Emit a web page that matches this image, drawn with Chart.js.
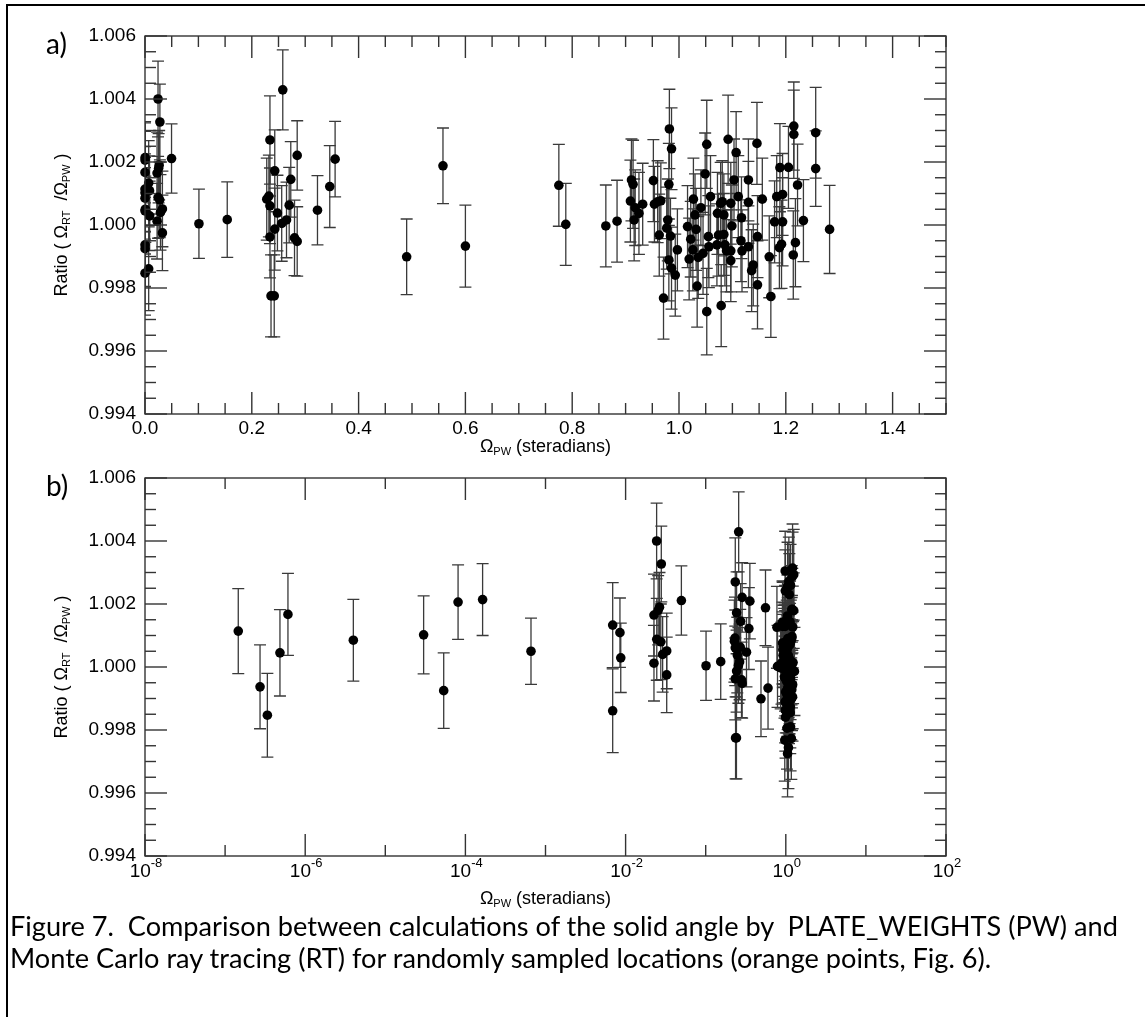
<!DOCTYPE html>
<html>
<head>
<meta charset="utf-8">
<script src="https://cdn.jsdelivr.net/npm/chart.js@4.4.1/dist/chart.umd.min.js"></script>
<style>
  html, body { margin: 0; padding: 0; background: #fff; }
  body { width: 1145px; height: 1017px; position: relative; overflow: hidden; }
  #frame { position: absolute; left: 6px; top: 4px; width: 1200px; height: 1100px;
           border-left: 2px solid #000; border-top: 2px solid #000; }
  canvas { position: absolute; left: 0; }
  #chartA { top: 0; }
  #chartB { top: 440px; }
  .panel { position: absolute; left: 46px; font-family: Lato, "Open Sans", sans-serif; font-size: 28px; line-height: 1; }
  #caption { position: absolute; left: 10px; top: 910px; font-family: Lato, "Open Sans", sans-serif;
             font-size: 23px; line-height: 32px; white-space: pre; color: #000; }
</style>
</head>
<body>
<div id="frame"></div>
<canvas id="chartA" width="1145" height="460"></canvas>
<canvas id="chartB" width="1145" height="470"></canvas>
<div class="panel" style="top:29px">a)</div>
<div class="panel" style="top:471px">b)</div>
<div id="caption"><span>Figure 7.  Comparison between calculations of the solid angle by  PLATE_WEIGHTS (PW) and</span>
<span>Monte Carlo ray tracing (RT) for randomly sampled locations (orange points, Fig. 6).</span></div>
<script>
// solid angle from PLATE_WEIGHTS (steradians)
const omegaPW = [
  1.46e-7, 2.73e-7, 3.37e-7, 4.84e-7, 6.09e-7, 3.99e-6, 3.01e-5, 5.36e-5, 8.1e-5, 1.64e-4, 6.59e-4, 6.9e-3, 6.9e-3, 8.5e-3, 8.7e-3,
  0.0226, 0.0226, 0.0244, 0.0245, 0.0255, 0.0265, 0.0279, 0.0275, 0.029, 0.0326, 0.0326, 0.0497, 0.101, 0.154,
  0.228, 0.232, 0.234, 0.234, 0.234, 0.236, 0.242, 0.243, 0.243, 0.248, 0.256, 0.258, 0.265, 0.270, 0.273, 0.280, 0.285, 0.285, 0.323, 0.346, 0.356,
  0.490, 0.558, 0.600, 0.775, 0.788, 0.863, 0.884,
  0.909, 0.911, 0.914, 0.916, 0.918, 0.925, 0.932, 0.952, 0.954, 0.960, 0.966, 0.963, 0.971, 0.977, 0.979, 0.981, 0.982, 0.986, 0.981, 0.984, 0.986, 0.993, 0.997,
  1.016, 1.019, 1.022, 1.026, 1.027, 1.030, 1.032, 1.034, 1.036, 1.041, 1.045, 1.049, 1.052, 1.052, 1.055, 1.056, 1.059,
  1.071, 1.072, 1.074, 1.078, 1.079, 1.081, 1.084, 1.084, 1.086, 1.089, 1.092, 1.097, 1.097, 1.097, 1.099, 1.103, 1.107, 1.111, 1.116, 1.117, 1.118,
  1.130, 1.130, 1.130, 1.136, 1.139, 1.146, 1.147, 1.147, 1.156, 1.169, 1.172, 1.179, 1.183, 1.189, 1.194, 1.194, 1.188, 1.192, 1.205, 1.215, 1.215, 1.222, 1.233, 1.218, 1.214, 1.256, 1.256, 1.282
];

// ratio RT / PW
const ratio = [
  1.00114, 0.99937, 0.99847, 1.00045, 1.00167, 1.00085, 1.00102, 0.99925, 1.00206, 1.00214, 1.0005, 1.00133, 0.99861, 1.00109, 1.00029,
  1.00165, 1.00012, 1.0040, 1.00088, 1.0018, 1.0019, 1.00327, 1.0008, 1.0004, 1.00051, 0.99975, 1.00211, 1.00004, 1.00017,
  1.00082, 1.00092, 1.0027, 1.00061, 0.99962, 0.99775, 0.99775, 1.00172, 0.99987, 1.00038, 1.00005, 1.00429, 1.00016, 1.00063, 1.00145, 0.99959, 0.99948, 1.00221, 1.00047, 1.00122, 1.00209,
  0.99899, 1.00188, 0.99933, 1.00126, 1.00002, 0.99997, 1.00012,
  1.00076, 1.00143, 1.00129, 1.00016, 1.00055, 1.00037, 1.00066, 1.00141, 1.00066, 1.00074, 1.00077, 0.99968, 0.99768, 0.9999, 1.00016, 1.00129, 1.00305, 1.00242, 0.99889, 0.99965, 0.99863, 0.99841, 0.99921,
  0.99995, 0.99892, 0.99955, 0.99921, 1.00082, 1.00032, 0.99986, 0.99806, 0.99897, 1.00055, 0.9991, 1.00162, 1.00256, 0.99725, 0.99963, 0.99931, 1.0009,
  0.99937, 1.00037, 0.99968, 1.00069, 0.99744, 1.00074, 1.00032, 0.9997, 0.99937, 0.99918, 1.00272, 1.00069, 0.99918, 0.99887, 0.99997, 1.00143, 1.0023, 1.0009, 0.9995, 1.00023, 0.99918,
  1.00143, 1.00072, 0.99931, 0.99855, 0.99873, 1.00259, 0.99963, 0.9981, 1.00082, 0.99899, 0.99773, 1.0001, 1.0009, 1.00182, 1.00097, 1.0001, 0.99928, 0.99939, 1.00183, 1.00314, 1.00288, 1.00127, 1.00014, 0.99944, 0.99905, 1.00293, 1.00179, 0.99986
];

// half-length of the error bars
const ratioErr = [
  0.00135, 0.00133, 0.00133, 0.00137, 0.0013, 0.0013, 0.00124, 0.0012, 0.00118, 0.00114, 0.00105, 0.00135, 0.00133, 0.0011, 0.0011,
  0.0013, 0.0012, 0.0012, 0.0013, 0.0011, 0.0011, 0.0012, 0.0012, 0.0012, 0.0012, 0.0012, 0.0011, 0.0011, 0.0012,
  0.0013, 0.0013, 0.0014, 0.0012, 0.0013, 0.0013, 0.0013, 0.0013, 0.0013, 0.0012, 0.0012, 0.00127, 0.0012, 0.0012, 0.0012, 0.0012, 0.0011, 0.0011, 0.0011, 0.0013, 0.0012,
  0.0012, 0.0012, 0.0013, 0.0013, 0.0013, 0.0013, 0.0013,
  0.0013, 0.0013, 0.0014, 0.0013, 0.0012, 0.0013, 0.0013, 0.0013, 0.0012, 0.0013, 0.0012, 0.0013, 0.0013, 0.0013, 0.0013, 0.0013, 0.00126, 0.0013, 0.0013, 0.0012, 0.0013, 0.0013, 0.0013,
  0.0013, 0.0013, 0.0012, 0.0013, 0.0013, 0.0013, 0.0013, 0.0013, 0.0013, 0.0012, 0.0013, 0.0013, 0.0014, 0.00137, 0.0013, 0.0013, 0.0013,
  0.0013, 0.0013, 0.0013, 0.0013, 0.0013, 0.0013, 0.0013, 0.0013, 0.0013, 0.0013, 0.0014, 0.0013, 0.0013, 0.0013, 0.0013, 0.0013, 0.0013, 0.0013, 0.0013, 0.0013, 0.0013,
  0.0013, 0.0013, 0.0013, 0.0013, 0.0013, 0.0013, 0.0013, 0.0014, 0.0013, 0.0013, 0.0013, 0.0013, 0.0013, 0.0014, 0.0013, 0.0014, 0.0013, 0.0014, 0.0013, 0.0014, 0.0014, 0.0013, 0.0013, 0.0014, 0.0014, 0.00144, 0.0012, 0.0014
];

const yTickValues = [0.994, 0.996, 0.998, 1.000, 1.002, 1.004, 1.006];
const yTickLabels = ["0.994", "0.996", "0.998", "1.000", "1.002", "1.004", "1.006"];
const xTickValuesA = [0, 0.2, 0.4, 0.6, 0.8, 1.0, 1.2, 1.4];
const xTickLabelsA = ["0.0", "0.2", "0.4", "0.6", "0.8", "1.0", "1.2", "1.4"];
const xTickExponentsB = [-8, -6, -4, -2, 0, 2];

const LABEL_FONT = '"Liberation Sans", Arial, sans-serif';

function measureParts(ctx, parts, size) {
  let w = 0;
  parts.forEach(([t, sub]) => {
    ctx.font = (sub ? Math.round(size * 0.62) : size) + 'px ' + LABEL_FONT;
    w += ctx.measureText(t).width;
  });
  return w;
}

function fillParts(ctx, parts, size, x0, y0) {
  let x = x0;
  parts.forEach(([t, sub]) => {
    ctx.font = (sub ? Math.round(size * 0.62) : size) + 'px ' + LABEL_FONT;
    ctx.fillText(t, x, y0 + (sub ? size * 0.3 : 0));
    x += ctx.measureText(t).width;
  });
}

const xTitleParts = [["\u03A9", false], ["PW", true], [" (steradians)", false]];
const yTitleParts = [["Ratio ( \u03A9", false], ["RT", true], ["  /\u03A9", false], ["PW", true], [" )", false]];

const errorBars = {
  id: 'errorBars',
  beforeDatasetsDraw(chart) {
    const { ctx, chartArea: a, scales: { x, y } } = chart;
    ctx.save();
    ctx.beginPath();
    ctx.rect(a.left, a.top, a.right - a.left, a.bottom - a.top);
    ctx.clip();
    ctx.strokeStyle = '#3a3a3a';
    ctx.lineWidth = 1.3;
    omegaPW.forEach((v, i) => {
      const px = x.getPixelForValue(v);
      const top = y.getPixelForValue(ratio[i] + ratioErr[i]);
      const bot = y.getPixelForValue(ratio[i] - ratioErr[i]);
      ctx.beginPath();
      ctx.moveTo(px, top); ctx.lineTo(px, bot);
      ctx.moveTo(px - 6, top); ctx.lineTo(px + 6, top);
      ctx.moveTo(px - 6, bot); ctx.lineTo(px + 6, bot);
      ctx.stroke();
    });
    ctx.restore();
  }
};

const frameAndTicks = {
  id: 'frameAndTicks',
  afterDraw(chart, args, opts) {
    const { ctx, chartArea: a, scales: { x, y } } = chart;
    ctx.save();
    ctx.strokeStyle = '#333';
    ctx.lineWidth = 1.4;
    ctx.strokeRect(a.left, a.top, a.right - a.left, a.bottom - a.top);

    const seg = (x1, y1, x2, y2) => { ctx.beginPath(); ctx.moveTo(x1, y1); ctx.lineTo(x2, y2); ctx.stroke(); };

    // x ticks, inward, bottom and top
    opts.xMarks.forEach(([v, major]) => {
      const px = x.getPixelForValue(v);
      const len = major ? 22 : 11;
      seg(px, a.bottom, px, a.bottom - len);
      seg(px, a.top, px, a.top + len);
    });
    // y ticks, inward, left and right
    for (let k = 0; k <= 24; k++) {
      const py = y.getPixelForValue(0.994 + k * 0.0005);
      const len = k % 4 === 0 ? 22 : 11;
      seg(a.left, py, a.left + len, py);
      seg(a.right, py, a.right - len, py);
    }

    // y tick labels
    ctx.fillStyle = '#000';
    ctx.font = '19px ' + LABEL_FONT;
    ctx.textAlign = 'right';
    ctx.textBaseline = 'middle';
    yTickValues.forEach((v, i) => {
      ctx.fillText(yTickLabels[i], a.left - 9, y.getPixelForValue(v));
    });

    // x tick labels
    const ly = a.bottom + opts.labelGap;
    if (opts.log) {
      ctx.textAlign = 'left';
      ctx.textBaseline = 'middle';
      xTickExponentsB.forEach(e => {
        const px = x.getPixelForValue(Math.pow(10, e));
        const exp = e < 0 ? '-' + Math.abs(e) : String(e);
        ctx.font = '19px ' + LABEL_FONT;
        const w1 = ctx.measureText('10').width;
        ctx.font = '13px ' + LABEL_FONT;
        const w2 = ctx.measureText(exp).width;
        const x0 = px - (w1 + w2) / 2 + 1;
        ctx.font = '19px ' + LABEL_FONT;
        ctx.fillText('10', x0, ly);
        ctx.font = '13px ' + LABEL_FONT;
        ctx.fillText(exp, x0 + w1, ly - 9);
      });
    } else {
      ctx.textAlign = 'center';
      ctx.textBaseline = 'middle';
      xTickValuesA.forEach((v, i) => {
        ctx.fillText(xTickLabelsA[i], x.getPixelForValue(v), ly);
      });
    }

    // axis titles
    ctx.textAlign = 'left';
    ctx.textBaseline = 'middle';
    const tw = measureParts(ctx, xTitleParts, 18);
    fillParts(ctx, xTitleParts, 18, (a.left + a.right) / 2 - tw / 2, a.bottom + opts.titleGap);

    const yw = measureParts(ctx, yTitleParts, 18);
    ctx.translate(62, (a.top + a.bottom) / 2);
    ctx.rotate(-Math.PI / 2);
    fillParts(ctx, yTitleParts, 18, -yw / 2, 0);
    ctx.restore();
  }
};

function makeChart(id, xScale, padTop, xAxisHeight, pluginOpts) {
  return new Chart(document.getElementById(id), {
    type: 'scatter',
    data: {
      datasets: [{
        data: omegaPW.map((v, i) => ({ x: v, y: ratio[i] })),
        pointRadius: 4.8,
        pointHoverRadius: 4.8,
        pointBackgroundColor: '#000',
        pointBorderWidth: 0,
        showLine: false,
        clip: false
      }]
    },
    options: {
      responsive: false,
      animation: false,
      devicePixelRatio: 1,
      layout: { padding: { left: 0, top: padTop, right: 199, bottom: 0 } },
      plugins: {
        legend: { display: false },
        tooltip: { enabled: false },
        frameAndTicks: pluginOpts
      },
      scales: {
        x: Object.assign({
          grid: { display: false, drawTicks: false },
          border: { display: false },
          ticks: { display: false },
          afterFit(s) { s.height = xAxisHeight; }
        }, xScale),
        y: {
          type: 'linear',
          min: 0.994,
          max: 1.006,
          grid: { display: false, drawTicks: false },
          border: { display: false },
          ticks: { display: false },
          afterFit(s) { s.width = 145; }
        }
      }
    },
    plugins: [errorBars, frameAndTicks]
  });
}

const linearMarks = [];
for (let k = 0; k <= 30; k++) linearMarks.push([k * 0.05, k % 4 === 0]);
const logMarks = [];
for (let e = -8; e <= 2; e++) logMarks.push([Math.pow(10, e), e % 2 === 0]);

makeChart('chartA', { type: 'linear', min: 0, max: 1.5 }, 36, 46,
  { xMarks: linearMarks, log: false, labelGap: 15, titleGap: 33 });
makeChart('chartB', { type: 'logarithmic', min: 1e-8, max: 1e2 }, 38, 54,
  { xMarks: logMarks, log: true, labelGap: 16, titleGap: 43 });

// fit caption lines to the width of the original text block
(function fitCaption() {
  const spans = document.querySelectorAll('#caption span');
  const w = spans[0].getBoundingClientRect().width;
  const size = 23 * 1108 / w;
  document.getElementById('caption').style.fontSize = size.toFixed(2) + 'px';
})();
</script>
</body>
</html>
